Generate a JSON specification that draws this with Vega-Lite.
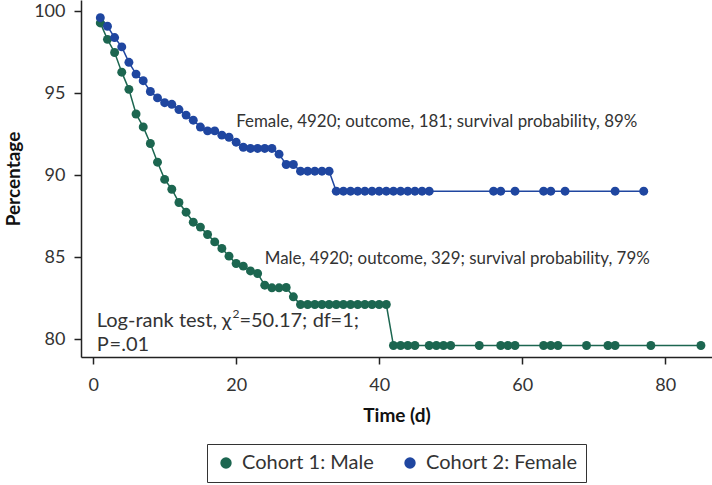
{
  "$schema": "https://vega.github.io/schema/vega-lite/v6.json",
  "width": 631,
  "height": 357,
  "autosize": {"type": "none"},
  "padding": {"left": 81, "top": 0, "right": 0, "bottom": 128},
  "background": "white",
  "config": {
    "view": {"stroke": null},
    "font": "Lato",
    "axis": {"labelFont": "Lato", "titleFont": "Lato", "grid": false, "domainColor": "#222", "domainWidth": 1.5, "tickColor": "#222", "tickWidth": 1.5, "tickSize": 7, "labelFontSize": 18, "labelColor": "#333", "titleFontSize": 19, "titleFontWeight": "bold", "titleColor": "#111"},
    "legend": {"orient": "none", "legendX": 126, "legendY": 444, "direction": "horizontal", "strokeColor": "#333", "padding": 9, "labelFont": "Lato", "labelFontSize": 20, "labelColor": "#333", "symbolType": "circle", "symbolSize": 130, "symbolStrokeWidth": 0, "symbolOpacity": 1, "columnPadding": 26, "labelOffset": 6}
  },
  "datasets": {
    "km": [
      {"cohort": "Cohort 1: Male", "t": 1, "v": 99.3},
      {"cohort": "Cohort 1: Male", "t": 2, "v": 98.3},
      {"cohort": "Cohort 1: Male", "t": 3, "v": 97.5},
      {"cohort": "Cohort 1: Male", "t": 4, "v": 96.3},
      {"cohort": "Cohort 1: Male", "t": 5, "v": 95.25},
      {"cohort": "Cohort 1: Male", "t": 6, "v": 93.75},
      {"cohort": "Cohort 1: Male", "t": 7, "v": 92.96},
      {"cohort": "Cohort 1: Male", "t": 8, "v": 91.95},
      {"cohort": "Cohort 1: Male", "t": 9, "v": 90.81},
      {"cohort": "Cohort 1: Male", "t": 10, "v": 89.76},
      {"cohort": "Cohort 1: Male", "t": 11, "v": 89.16},
      {"cohort": "Cohort 1: Male", "t": 12, "v": 88.35},
      {"cohort": "Cohort 1: Male", "t": 13, "v": 87.76},
      {"cohort": "Cohort 1: Male", "t": 14, "v": 87.15},
      {"cohort": "Cohort 1: Male", "t": 15, "v": 86.85},
      {"cohort": "Cohort 1: Male", "t": 16, "v": 86.4},
      {"cohort": "Cohort 1: Male", "t": 17, "v": 85.95},
      {"cohort": "Cohort 1: Male", "t": 18, "v": 85.55},
      {"cohort": "Cohort 1: Male", "t": 19, "v": 85.08},
      {"cohort": "Cohort 1: Male", "t": 20, "v": 84.63},
      {"cohort": "Cohort 1: Male", "t": 21, "v": 84.47},
      {"cohort": "Cohort 1: Male", "t": 22, "v": 84.18},
      {"cohort": "Cohort 1: Male", "t": 23, "v": 84.02},
      {"cohort": "Cohort 1: Male", "t": 24, "v": 83.31},
      {"cohort": "Cohort 1: Male", "t": 25, "v": 83.15},
      {"cohort": "Cohort 1: Male", "t": 26, "v": 83.15},
      {"cohort": "Cohort 1: Male", "t": 27, "v": 83.17},
      {"cohort": "Cohort 1: Male", "t": 28, "v": 82.6},
      {"cohort": "Cohort 1: Male", "t": 29, "v": 82.13},
      {"cohort": "Cohort 1: Male", "t": 30, "v": 82.13},
      {"cohort": "Cohort 1: Male", "t": 31, "v": 82.13},
      {"cohort": "Cohort 1: Male", "t": 32, "v": 82.13},
      {"cohort": "Cohort 1: Male", "t": 33, "v": 82.13},
      {"cohort": "Cohort 1: Male", "t": 34, "v": 82.13},
      {"cohort": "Cohort 1: Male", "t": 35, "v": 82.13},
      {"cohort": "Cohort 1: Male", "t": 36, "v": 82.13},
      {"cohort": "Cohort 1: Male", "t": 37, "v": 82.13},
      {"cohort": "Cohort 1: Male", "t": 38, "v": 82.13},
      {"cohort": "Cohort 1: Male", "t": 39, "v": 82.13},
      {"cohort": "Cohort 1: Male", "t": 40, "v": 82.13},
      {"cohort": "Cohort 1: Male", "t": 41, "v": 82.13},
      {"cohort": "Cohort 1: Male", "t": 42, "v": 79.63},
      {"cohort": "Cohort 1: Male", "t": 43, "v": 79.63},
      {"cohort": "Cohort 1: Male", "t": 44, "v": 79.63},
      {"cohort": "Cohort 1: Male", "t": 45, "v": 79.63},
      {"cohort": "Cohort 1: Male", "t": 47, "v": 79.63},
      {"cohort": "Cohort 1: Male", "t": 48, "v": 79.63},
      {"cohort": "Cohort 1: Male", "t": 49, "v": 79.63},
      {"cohort": "Cohort 1: Male", "t": 50, "v": 79.63},
      {"cohort": "Cohort 1: Male", "t": 54, "v": 79.63},
      {"cohort": "Cohort 1: Male", "t": 57, "v": 79.63},
      {"cohort": "Cohort 1: Male", "t": 58, "v": 79.63},
      {"cohort": "Cohort 1: Male", "t": 59, "v": 79.63},
      {"cohort": "Cohort 1: Male", "t": 63, "v": 79.63},
      {"cohort": "Cohort 1: Male", "t": 64, "v": 79.63},
      {"cohort": "Cohort 1: Male", "t": 65, "v": 79.63},
      {"cohort": "Cohort 1: Male", "t": 69, "v": 79.63},
      {"cohort": "Cohort 1: Male", "t": 72, "v": 79.63},
      {"cohort": "Cohort 1: Male", "t": 73, "v": 79.63},
      {"cohort": "Cohort 1: Male", "t": 78, "v": 79.63},
      {"cohort": "Cohort 1: Male", "t": 85, "v": 79.63},
      {"cohort": "Cohort 2: Female", "t": 1, "v": 99.62},
      {"cohort": "Cohort 2: Female", "t": 2, "v": 99.1},
      {"cohort": "Cohort 2: Female", "t": 3, "v": 98.41},
      {"cohort": "Cohort 2: Female", "t": 4, "v": 97.84},
      {"cohort": "Cohort 2: Female", "t": 5, "v": 96.9},
      {"cohort": "Cohort 2: Female", "t": 6, "v": 96.18},
      {"cohort": "Cohort 2: Female", "t": 7, "v": 95.78},
      {"cohort": "Cohort 2: Female", "t": 8, "v": 95.12},
      {"cohort": "Cohort 2: Female", "t": 9, "v": 94.73},
      {"cohort": "Cohort 2: Female", "t": 10, "v": 94.44},
      {"cohort": "Cohort 2: Female", "t": 11, "v": 94.34},
      {"cohort": "Cohort 2: Female", "t": 12, "v": 94.02},
      {"cohort": "Cohort 2: Female", "t": 13, "v": 93.68},
      {"cohort": "Cohort 2: Female", "t": 14, "v": 93.37},
      {"cohort": "Cohort 2: Female", "t": 15, "v": 92.95},
      {"cohort": "Cohort 2: Female", "t": 16, "v": 92.72},
      {"cohort": "Cohort 2: Female", "t": 17, "v": 92.72},
      {"cohort": "Cohort 2: Female", "t": 18, "v": 92.46},
      {"cohort": "Cohort 2: Female", "t": 19, "v": 92.33},
      {"cohort": "Cohort 2: Female", "t": 20, "v": 92.03},
      {"cohort": "Cohort 2: Female", "t": 21, "v": 91.72},
      {"cohort": "Cohort 2: Female", "t": 22, "v": 91.65},
      {"cohort": "Cohort 2: Female", "t": 23, "v": 91.65},
      {"cohort": "Cohort 2: Female", "t": 24, "v": 91.65},
      {"cohort": "Cohort 2: Female", "t": 25, "v": 91.65},
      {"cohort": "Cohort 2: Female", "t": 26, "v": 91.3},
      {"cohort": "Cohort 2: Female", "t": 27, "v": 90.67},
      {"cohort": "Cohort 2: Female", "t": 28, "v": 90.67},
      {"cohort": "Cohort 2: Female", "t": 29, "v": 90.26},
      {"cohort": "Cohort 2: Female", "t": 30, "v": 90.26},
      {"cohort": "Cohort 2: Female", "t": 31, "v": 90.26},
      {"cohort": "Cohort 2: Female", "t": 32, "v": 90.26},
      {"cohort": "Cohort 2: Female", "t": 33, "v": 90.26},
      {"cohort": "Cohort 2: Female", "t": 34, "v": 89.04},
      {"cohort": "Cohort 2: Female", "t": 35, "v": 89.04},
      {"cohort": "Cohort 2: Female", "t": 36, "v": 89.04},
      {"cohort": "Cohort 2: Female", "t": 37, "v": 89.04},
      {"cohort": "Cohort 2: Female", "t": 38, "v": 89.04},
      {"cohort": "Cohort 2: Female", "t": 39, "v": 89.04},
      {"cohort": "Cohort 2: Female", "t": 40, "v": 89.04},
      {"cohort": "Cohort 2: Female", "t": 41, "v": 89.04},
      {"cohort": "Cohort 2: Female", "t": 42, "v": 89.04},
      {"cohort": "Cohort 2: Female", "t": 43, "v": 89.04},
      {"cohort": "Cohort 2: Female", "t": 44, "v": 89.04},
      {"cohort": "Cohort 2: Female", "t": 45, "v": 89.04},
      {"cohort": "Cohort 2: Female", "t": 46, "v": 89.04},
      {"cohort": "Cohort 2: Female", "t": 47, "v": 89.04},
      {"cohort": "Cohort 2: Female", "t": 56, "v": 89.04},
      {"cohort": "Cohort 2: Female", "t": 57, "v": 89.04},
      {"cohort": "Cohort 2: Female", "t": 59, "v": 89.04},
      {"cohort": "Cohort 2: Female", "t": 63, "v": 89.04},
      {"cohort": "Cohort 2: Female", "t": 64, "v": 89.04},
      {"cohort": "Cohort 2: Female", "t": 66, "v": 89.04},
      {"cohort": "Cohort 2: Female", "t": 73, "v": 89.04},
      {"cohort": "Cohort 2: Female", "t": 77, "v": 89.04}
    ],
    "notes": [
      {"t": 20, "v": 92.94, "label": "Female, 4920; outcome, 181; survival probability, 89%", "size": 16.9, "style": "normal", "weight": "normal"},
      {"t": 24, "v": 84.59, "label": "Male, 4920; outcome, 329; survival probability, 79%", "size": 16.9, "style": "normal", "weight": "normal"},
      {"t": 0.5, "v": 80.75, "label": "Log-rank test,", "size": 20, "style": "normal", "weight": "normal"},
      {"t": 18.0, "v": 80.75, "label": "χ", "size": 20, "style": "normal", "weight": "bold"},
      {"t": 19.5, "v": 81.3, "label": "2", "size": 12, "style": "normal", "weight": "normal"},
      {"t": 20.45, "v": 80.75, "label": "=50.17;", "size": 20, "style": "normal", "weight": "normal"},
      {"t": 30.7, "v": 80.75, "label": "df", "size": 20, "style": "italic", "weight": "normal"},
      {"t": 33.2, "v": 80.75, "label": "=1;", "size": 20, "style": "normal", "weight": "normal"},
      {"t": 0.5, "v": 79.29, "label": "P", "size": 20, "style": "italic", "weight": "normal"},
      {"t": 2.3, "v": 79.29, "label": "=.01", "size": 20, "style": "normal", "weight": "normal"}
    ]
  },
  "layer": [
    {
      "data": {"name": "km"},
      "mark": {"type": "line", "strokeWidth": 1.5, "clip": true},
      "encoding": {
        "x": {"field": "t", "type": "quantitative", "scale": {"domain": [-1.7, 86.55], "nice": false, "zero": false}, "axis": {"values": [0, 20, 40, 60, 80], "title": "Time (d)", "titlePadding": 12, "labelPadding": 12}},
        "y": {"field": "v", "type": "quantitative", "scale": {"domain": [78.93, 100.7], "nice": false, "zero": false}, "axis": {"values": [80, 85, 90, 95, 100], "title": "Percentage", "titlePadding": 10, "labelPadding": 9}},
        "color": {"field": "cohort", "type": "nominal", "scale": {"domain": ["Cohort 1: Male", "Cohort 2: Female"], "range": ["#1c6650", "#1f46a0"]}, "legend": {"title": null}}
      }
    },
    {
      "data": {"name": "km"},
      "mark": {"type": "point", "filled": true, "size": 80, "opacity": 1, "clip": true},
      "encoding": {
        "x": {"field": "t", "type": "quantitative"},
        "y": {"field": "v", "type": "quantitative"},
        "color": {"field": "cohort", "type": "nominal", "legend": {"title": null}}
      }
    },
    {
      "data": {"name": "notes"},
      "mark": {"type": "text", "align": "left", "baseline": "alphabetic", "color": "#333", "font": "Lato"},
      "encoding": {
        "x": {"field": "t", "type": "quantitative"},
        "y": {"field": "v", "type": "quantitative"},
        "text": {"field": "label"},
        "size": {"field": "size", "type": "quantitative", "scale": null},
        "fontStyle": {"field": "style"},
        "fontWeight": {"field": "weight"}
      }
    }
  ]
}
